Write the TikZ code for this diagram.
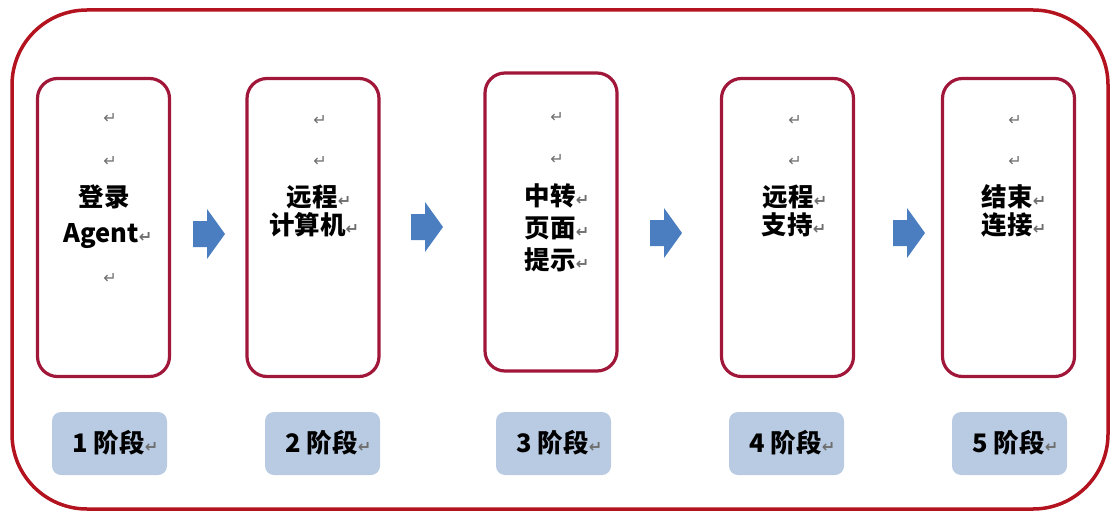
\documentclass[tikz,border=0pt]{standalone}
\usepackage{fontspec}
\newfontfamily\cjk{Noto Sans CJK SC}[BoldFont={* Black}]
\newfontfamily\symf{DejaVu Sans}
\definecolor{outerred}{HTML}{B3121F}
\definecolor{boxred}{HTML}{A0173A}
\definecolor{lblfill}{HTML}{B9CBE2}
\definecolor{arrblue}{HTML}{4A7EC1}
\definecolor{retgray}{HTML}{6E6E6E}
\newcommand\ret{{\symf\fontsize{16}{16}\selectfont\color{retgray}↵}}
\tikzset{
  outerbox/.style={draw=outerred,line width=3.5pt,rounded corners=75pt},
  stagebox/.style={draw=boxred,line width=3.2pt,rounded corners=20pt,minimum width=132pt,minimum height=298pt,inner sep=0pt},
  lblbox/.style={fill=lblfill,draw=none,rounded corners=9pt,minimum width=115pt,minimum height=63pt,inner sep=0pt},
  txt/.style={inner sep=0pt,font=\cjk\bfseries\fontsize{25.5}{26}\selectfont,text=black},
  rmark/.style={inner sep=0pt,font=\symf\fontsize{16}{16}\selectfont,text=retgray},
  blockarrow/.style={fill=arrblue,draw=none}
}
\newcommand\blockarr[2]{%
  \fill[blockarrow] (#1-16,#2-13) -- (#1-2,#2-13) -- (#1-2,#2-25) -- (#1+16,#2) -- (#1-2,#2+25) -- (#1-2,#2+13) -- (#1-16,#2+13) -- cycle;}
\begin{document}
\begin{tikzpicture}[x=1pt,y=-1pt]
\useasboundingbox (0,0) rectangle (1115,513);
\draw[outerbox] (12,10) rectangle (1108,509);
% stage boxes
\node[stagebox] (b1) at (103.5,227.5) {};
\node[stagebox] (b2) at (313,227.5) {};
\node[stagebox] (b3) at (551,222) {};
\node[stagebox] (b4) at (787.5,227.5) {};
\node[stagebox] (b5) at (1008.5,227.5) {};
% box 1 text
\node[rmark] (b1r1) at (110,118) {↵};
\node[rmark] (b1r2) at (110,161) {↵};
\node[txt] (b1t1) at (104,197) {登录};
\node[txt] (b1t2) at (108,236) {Agent\ret};
\node[rmark] (b1r3) at (110,278) {↵};
% box 2 text
\node[rmark] (b2r1) at (320,120) {↵};
\node[rmark] (b2r2) at (320,161) {↵};
\node[txt] (b2t1) at (319,197) {远程\ret};
\node[txt] (b2t2) at (314,225) {计算机\ret};
% box 3 text
\node[rmark] (b3r1) at (557,117) {↵};
\node[rmark] (b3r2) at (557,159) {↵};
\node[txt] (b3t1) at (557,196) {中转\ret};
\node[txt] (b3t2) at (557,228) {页面\ret};
\node[txt] (b3t3) at (557,260) {提示\ret};
% box 4 text
\node[rmark] (b4r1) at (795,120) {↵};
\node[rmark] (b4r2) at (795,161) {↵};
\node[txt] (b4t1) at (795,197) {远程\ret};
\node[txt] (b4t2) at (794,225) {支持\ret};
% box 5 text
\node[rmark] (b5r1) at (1015,120) {↵};
\node[rmark] (b5r2) at (1015,161) {↵};
\node[txt] (b5t1) at (1014,197) {结束\ret};
\node[txt] (b5t2) at (1014,225) {连接\ret};
% labels
\node[lblbox] (l1) at (109.5,443.5) {};
\node[lblbox] (l2) at (322.5,443.5) {};
\node[lblbox] (l3) at (553.5,443.5) {};
\node[lblbox] (l4) at (786.5,443.5) {};
\node[lblbox] (l5) at (1009.5,443.5) {};
\node[txt] (t1) at (115.5,443) {1 阶段\ret};
\node[txt] (t2) at (328.5,443) {2 阶段\ret};
\node[txt] (t3) at (559.5,443) {3 阶段\ret};
\node[txt] (t4) at (792.5,443) {4 阶段\ret};
\node[txt] (t5) at (1015.5,443) {5 阶段\ret};
% arrows
\blockarr{209}{234}
\blockarr{427}{227}
\blockarr{666}{233}
\blockarr{909}{233}
\end{tikzpicture}
\end{document}
